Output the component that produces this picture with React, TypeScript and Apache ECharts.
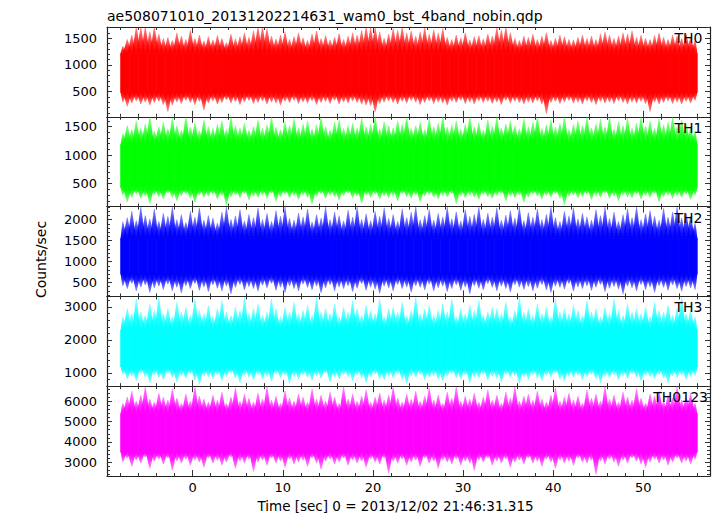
import React, { useEffect, useRef } from "react";
import * as echarts from "echarts";

const TITLE = "ae508071010_20131202214631_wam0_bst_4band_nobin.qdp";
const X_NAME = "Time [sec] 0 = 2013/12/02 21:46:31.315";
const Y_NAME = "Counts/sec";

const bandNames = ["TH0", "TH1", "TH2", "TH3", "TH0123"];
const bandColors = ["#ff0000", "#00ff00", "#0000ff", "#00ffff", "#ff00ff"];
const bandRGB = ["255,0,0", "0,255,0", "0,0,255", "0,255,255", "255,0,255"];
const yMins = [25, 100, 170, 600, 2330];
const yMaxs = [1710, 1670, 2310, 3320, 6730];
const yMajorStep = [500, 500, 500, 1000, 1000];
const yMinorStep = [100, 100, 100, 200, 200];
// level of the fully saturated core of each light curve
const coreLo = [480, 430, 700, 1180, 3500];
const coreHi = [1220, 1190, 1560, 2300, 5400];

const xMin = -9.5;
const xMax = 57.4;
const xMajorTicks = [0, 10, 20, 30, 40, 50];
const xMinorTicks = [-8, -6, -4, -2, 2, 4, 6, 8, 12, 14, 16, 18, 22, 24, 26, 28, 32, 34, 36, 38, 42, 44, 46, 48, 52, 54, 56];

// light curves: per 0.5 s bin, the highest and lowest count rate seen
const binStart = -8;
const binWidth = 0.5;

const th0Hi = [1350,1480,1560,1750,1700,1750,1620,1750,1580,1500,
1520,1460,1600,1540,1480,1650,1500,1560,1450,1530,
1470,1550,1500,1420,1580,1490,1530,1600,1520,1640,
1750,1720,1680,1540,1490,1560,1620,1480,1530,1600,
1510,1460,1580,1640,1500,1550,1470,1520,1590,1480,
1540,1600,1560,1650,1750,1700,1750,1620,1500,1580,
1680,1650,1720,1600,1640,1540,1620,1700,1580,1660,
1600,1680,1520,1480,1560,1510,1600,1470,1530,1550,
1490,1580,1540,1700,1660,1720,1600,1500,1460,1540,
1520,1580,1480,1540,1600,1460,1500,1560,1530,1480,
1470,1520,1560,1500,1540,1480,1580,1620,1560,1500,
1540,1600,1580,1640,1520,1560,1500,1480,1550,1600,
1520,1480,1560,1540,1500,1580,1520,1460];
const th0Lo = [300,220,280,320,260,300,240,290,310,250,
120,240,300,270,330,290,250,310,150,280,
320,260,290,340,280,310,250,300,330,270,
290,320,260,300,280,240,310,290,330,270,
300,280,320,250,290,310,270,330,260,300,
280,320,290,260,240,230,110,270,300,320,
290,260,310,280,330,300,250,290,320,270,
300,280,240,310,290,330,270,300,260,320,
290,310,270,300,250,330,280,310,290,260,
300,280,320,260,80,290,310,270,300,330,
280,300,260,320,290,250,310,280,300,270,
320,290,260,300,280,310,270,120,300,260,
290,320,270,300,260,310,280,330];

const th1Hi = [1380,1520,1450,1600,1480,1550,1700,1420,1500,1580,
1460,1650,1520,1440,1700,1490,1560,1430,1620,1500,
1470,1540,1600,1450,1680,1520,1480,1560,1440,1500,
1620,1470,1530,1700,1490,1450,1580,1520,1640,1480,
1550,1600,1460,1530,1700,1500,1440,1580,1620,1470,
1520,1560,1480,1650,1500,1540,1700,1460,1590,1520,
1480,1600,1540,1700,1470,1520,1580,1450,1640,1500,
1560,1700,1490,1530,1600,1460,1540,1680,1500,1570,
1440,1620,1510,1700,1480,1550,1600,1520,1460,1640,
1500,1580,1700,1470,1530,1620,1490,1560,1700,1450,
1540,1600,1520,1680,1480,1550,1630,1500,1700,1460,
1590,1520,1650,1480,1560,1700,1510,1600,1470,1640,
1530,1580,1700,1500,1620,1540,1480,1420];
const th1Lo = [300,180,260,320,240,280,150,310,270,230,
330,260,200,290,320,240,170,300,260,280,
310,230,290,120,270,300,250,320,210,280,
260,300,240,330,190,270,310,250,290,220,
300,260,140,280,320,240,300,270,210,290,
330,250,280,160,300,260,310,230,280,250,
290,200,320,270,240,300,180,280,310,260,
230,290,270,320,150,280,250,300,260,220,
310,270,240,290,320,200,280,250,300,170,
260,310,280,230,290,260,320,240,130,280,
300,250,270,310,220,290,260,330,240,280,
200,300,270,250,310,230,290,260,320,180,
270,300,240,290,260,310,220,300];

const th2Hi = [1950,2050,2200,1980,2300,2100,2020,2250,1960,2150,
2080,2300,2000,2120,1940,2200,2060,2280,1990,2100,
2040,1920,2180,2300,2010,2090,2240,1970,2130,2050,
2280,2000,2150,1960,2220,2080,2300,2030,1990,2160,
2070,2250,1950,2120,2040,2300,2000,2180,2100,1970,
2230,2060,2300,2010,2140,1980,2200,2080,2280,2030,
2120,1960,2260,2050,2180,2300,2000,2100,2240,1990,
2150,2070,2300,2020,2190,1970,2240,2080,2130,2300,
2010,2160,2060,2280,1990,2110,2220,2040,2300,1980,
2170,2060,2250,2000,2130,2300,2050,1960,2200,2090,
2280,2020,2150,2070,1990,2240,2100,2300,2030,2180,
1960,2120,2260,2050,2300,2000,2140,2220,2080,1990,
2270,2060,2180,2300,2040,2150,2080,1920];
const th2Lo = [420,350,480,300,390,440,260,370,410,330,
460,300,380,250,420,350,470,310,390,280,
440,360,300,410,230,380,450,320,400,350,
290,430,370,480,310,390,260,420,350,300,
460,380,320,410,250,370,440,300,390,350,
420,280,360,470,310,390,340,240,410,370,
300,450,350,390,260,420,380,320,460,300,
370,410,280,350,440,310,390,230,420,360,
320,470,380,300,410,350,270,440,390,330,
400,300,360,450,320,260,410,380,340,470,
290,390,350,420,310,380,450,280,360,400,
340,220,410,370,300,450,330,390,260,420,
380,310,440,350,290,400,370,330];

const th3Hi = [2700,2950,2800,3250,2850,2750,3100,2900,3300,2800,
2950,2700,3150,2850,3000,2750,3250,2900,2800,3050,
2700,2950,3200,2850,2750,3000,2900,3300,2800,2950,
3100,2750,2850,3250,2950,2700,3000,2850,3150,2800,
2900,3050,2750,3300,2850,2950,2800,3100,2700,3000,
2850,3200,2950,2750,3050,2900,2800,3250,2700,2950,
3000,2850,3150,2750,2900,3300,2800,2950,3050,2750,
2900,3100,2850,3250,2700,2950,2800,3050,2900,3200,
2750,2850,3000,2950,2800,3150,2700,2900,3300,2850,
2950,2750,3100,2800,3000,2700,3250,2850,2950,2800,
3050,2900,2750,3200,2850,2950,2700,3000,2800,3250,
2900,2750,3100,2850,2950,2800,3000,2700,3150,2900,
2850,3050,2750,2950,3300,2800,2900,2700];
const th3Lo = [950,820,900,760,1000,880,700,940,850,790,
980,860,720,910,830,960,780,650,900,870,
820,940,760,890,1000,840,700,920,860,780,
950,810,890,740,970,850,920,680,880,800,
940,860,770,910,830,990,720,870,810,950,
890,760,930,850,700,880,960,820,780,900,
840,970,800,660,910,870,950,790,860,920,
820,740,900,980,850,810,930,700,880,840,
960,780,890,830,720,950,860,910,680,870,
800,940,850,760,920,880,990,810,740,900,
860,930,790,870,960,820,700,890,850,940,
780,910,830,970,860,750,920,880,810,950,
840,690,900,860,930,800,880,920];

const th0123Hi = [5900,6200,6500,6000,6300,6700,6100,5950,6400,6200,
6050,6600,6150,5900,6350,6000,6700,6250,6100,5950,
6300,6050,6450,5900,6200,6650,6000,6350,6150,5950,
6400,6100,6700,6050,6250,5900,6500,6150,6000,6350,
6200,5950,6600,6100,6300,6000,6450,6200,5900,6700,
6100,6350,6000,6250,6550,5950,6200,6400,6050,6300,
6700,6150,5950,6350,6100,6500,6000,6250,6650,6050,
6300,5900,6450,6150,6700,6000,6250,6100,6400,5950,
6200,6550,6050,6300,5900,6450,6150,6700,6000,6250,
6350,6050,6500,6100,5950,6300,6650,6000,6200,6400,
6050,6250,5900,6550,6150,6350,6000,6700,6100,6300,
5950,6450,6200,6050,6600,6150,5900,6350,6250,6500,
6000,6300,6150,6700,6050,6200,6400,5900];
const th0123Lo = [3000,3200,2800,3100,2950,3250,2700,3050,3150,2900,
3200,2600,3050,2950,3150,2850,3100,3000,2750,3200,
2950,3100,2850,3000,3250,2700,3050,2950,3150,2550,
3000,3100,2850,3200,2950,3050,2750,3150,2900,3000,
3100,2800,3200,2950,2650,3050,3150,2900,3000,3200,
2850,3100,2950,3050,2750,3150,3000,2900,3200,2450,
3050,2950,3150,2850,3000,3100,2800,3200,2950,3050,
2700,3100,3000,2900,3150,2850,3050,2950,2600,3100,
3000,3200,2850,3050,2950,3150,2750,3000,3100,2900,
3200,2950,3050,2800,3150,3000,2700,3100,2950,3050,
2850,3200,3000,2950,3100,2400,3050,2900,3150,3000,
2800,3100,2950,3200,3050,2900,2750,3000,3150,2950,
3100,2850,3000,3200,2950,3050,2900,3150];

const hiSeries = [th0Hi, th1Hi, th2Hi, th3Hi, th0123Hi];
const loSeries = [th0Lo, th1Lo, th2Lo, th3Lo, th0123Lo];

const FONT = "DejaVu Sans";
const W = 717;
const H = 516;
const GRID_LEFT = 107;
const GRID_RIGHT = 7;
const GRID_TOP = 27;
const PANEL_H = 89.8;

function stepValues(min: number, max: number, step: number): number[] {
  const out: number[] = [];
  for (let v = Math.ceil(min / step) * step; v <= max; v += step) out.push(v);
  return out;
}

function buildOption() {
  const grids: any[] = [];
  const xAxes: any[] = [];
  const yAxes: any[] = [];
  const series: any[] = [];
  const lineStyle = { color: "#222", width: 1.2 };
  const tickStyle = { color: "#333", width: 1 };
  const plain = (v: number) => String(v);

  for (let p = 0; p < 5; p++) {
    grids.push({ left: GRID_LEFT, right: GRID_RIGHT, top: GRID_TOP + p * PANEL_H, height: PANEL_H });
    const last = p === 4;
    const xBase = xAxes.length;
    const xDefs = [
      { pos: "bottom", ticks: xMajorTicks, len: 6, line: true, label: last },
      { pos: "bottom", ticks: xMinorTicks, len: 3, line: false, label: false },
      { pos: "top", ticks: xMajorTicks, len: 6, line: true, label: false },
      { pos: "top", ticks: xMinorTicks, len: 3, line: false, label: false },
    ];
    xDefs.forEach((d) => {
      xAxes.push({
        type: "value",
        gridIndex: p,
        position: d.pos,
        min: xMin,
        max: xMax,
        splitLine: { show: false },
        axisLine: { show: d.line, onZero: false, lineStyle },
        axisTick: { show: true, inside: true, length: d.len, lineStyle: tickStyle, customValues: d.ticks },
        axisLabel: {
          show: d.label,
          customValues: xMajorTicks,
          formatter: plain,
          fontFamily: FONT,
          fontSize: 13,
          color: "#000",
          margin: 5,
        },
      });
    });
    const yBase = yAxes.length;
    const majors = stepValues(yMins[p], yMaxs[p], yMajorStep[p]);
    const minors = stepValues(yMins[p], yMaxs[p], yMinorStep[p]);
    const yDefs = [
      { pos: "left", ticks: majors, len: 5, line: true, label: true },
      { pos: "left", ticks: minors, len: 3, line: false, label: false },
      { pos: "right", ticks: majors, len: 5, line: true, label: false },
      { pos: "right", ticks: minors, len: 3, line: false, label: false },
    ];
    yDefs.forEach((d) => {
      yAxes.push({
        type: "value",
        gridIndex: p,
        position: d.pos,
        min: yMins[p],
        max: yMaxs[p],
        splitLine: { show: false },
        axisLine: { show: d.line, onZero: false, lineStyle },
        axisTick: { show: true, inside: true, length: d.len, lineStyle: tickStyle, customValues: d.ticks },
        axisLabel: {
          show: d.label,
          customValues: majors,
          formatter: plain,
          fontFamily: FONT,
          fontSize: 13,
          color: "#000",
          margin: 10,
        },
      });
    });

    const data = hiSeries[p].map((hi, k) => [binStart + k * binWidth, loSeries[p][k], hi]);
    const color = bandColors[p];
    const rgb = bandRGB[p];
    const cLo = coreLo[p];
    const cHi = coreHi[p];
    const nBins = hiSeries[p].length;
    const tStart = binStart;
    const tEnd = binStart + nBins * binWidth;
    const upGrad = new echarts.graphic.LinearGradient(0, 0, 0, 1, [
      { offset: 0, color: `rgba(${rgb},0.45)` },
      { offset: 0.55, color: `rgba(${rgb},0.85)` },
      { offset: 1, color: `rgba(${rgb},1)` },
    ]);
    const downGrad = new echarts.graphic.LinearGradient(0, 0, 0, 1, [
      { offset: 0, color: `rgba(${rgb},1)` },
      { offset: 0.45, color: `rgba(${rgb},0.85)` },
      { offset: 1, color: `rgba(${rgb},0.45)` },
    ]);
    series.push({
      type: "custom",
      name: bandNames[p],
      xAxisIndex: xBase,
      yAxisIndex: yBase,
      data,
      silent: true,
      renderItem: (params: any, api: any) => {
        const t = api.value(0);
        const lo = api.value(1);
        const hi = api.value(2);
        const cs = params.coordSys;
        const yTop = cs.y;
        const yBot = cs.y + cs.height;
        const clampY = (y: number) => Math.max(yTop, Math.min(yBot, y));
        const a = api.coord([t, cLo]);
        const b = api.coord([t + binWidth, cHi]);
        const x0 = a[0];
        const x1 = b[0];
        const w = x1 - x0;
        const xm = (x0 + x1) / 2;
        const xs = api.coord([tStart, cLo])[0];
        const xe = api.coord([tEnd, cLo])[0];
        const bl = Math.max(xs, x0 - w * 0.45);
        const br = Math.min(xe, x1 + w * 0.45);
        const yCL = a[1];
        const yCH = b[1];
        const yH = clampY(api.coord([t, hi])[1]);
        const yL = clampY(api.coord([t, lo])[1]);
        return {
          type: "group",
          children: [
            {
              type: "rect",
              shape: { x: x0 - 0.3, y: yCH, width: w + 0.6, height: yCL - yCH },
              style: { fill: color },
            },
            {
              type: "polygon",
              shape: { points: [[bl, yCH + 0.5], [xm - 0.4, yH], [xm + 0.4, yH], [br, yCH + 0.5]] },
              style: { fill: upGrad },
            },
            {
              type: "polygon",
              shape: { points: [[bl, yCL - 0.5], [xm - 0.4, yL], [xm + 0.4, yL], [br, yCL - 0.5]] },
              style: { fill: downGrad },
            },
          ],
        };
      },
    });
  }

  const labelRight = [702.5, 702.5, 702.5, 702.5, 708];
  const graphic: any[] = [
    {
      type: "text",
      left: GRID_LEFT,
      top: 9,
      style: { text: TITLE, fontFamily: FONT, fontSize: 14, fill: "#000" },
    },
    {
      type: "text",
      x: 41,
      y: 259.5,
      rotation: Math.PI / 2,
      style: { text: Y_NAME, fontFamily: FONT, fontSize: 14, fill: "#000", align: "center", verticalAlign: "middle" },
    },
    {
      type: "text",
      x: 395.5,
      y: 506,
      style: { text: X_NAME, fontFamily: FONT, fontSize: 13.5, fill: "#000", align: "center", verticalAlign: "middle" },
    },
  ];
  bandNames.forEach((n, p) => {
    graphic.push({
      type: "text",
      x: labelRight[p],
      y: GRID_TOP + p * PANEL_H + 11,
      z: 100,
      style: { text: n, fontFamily: FONT, fontSize: 14, fill: "#000", align: "right", verticalAlign: "middle" },
    });
  });

  return {
    animation: false,
    backgroundColor: "#ffffff",
    grid: grids,
    xAxis: xAxes,
    yAxis: yAxes,
    series,
    graphic,
  };
}

export default function App() {
  const ref = useRef<HTMLDivElement>(null);
  useEffect(() => {
    if (!ref.current) return;
    const chart = echarts.init(ref.current, undefined, { renderer: "svg" });
    chart.setOption(buildOption() as any);
    return () => chart.dispose();
  }, []);
  return (
    <div
      ref={ref}
      style={{ position: "fixed", left: 0, top: 0, width: W, height: H, background: "#fff" }}
    />
  );
}
